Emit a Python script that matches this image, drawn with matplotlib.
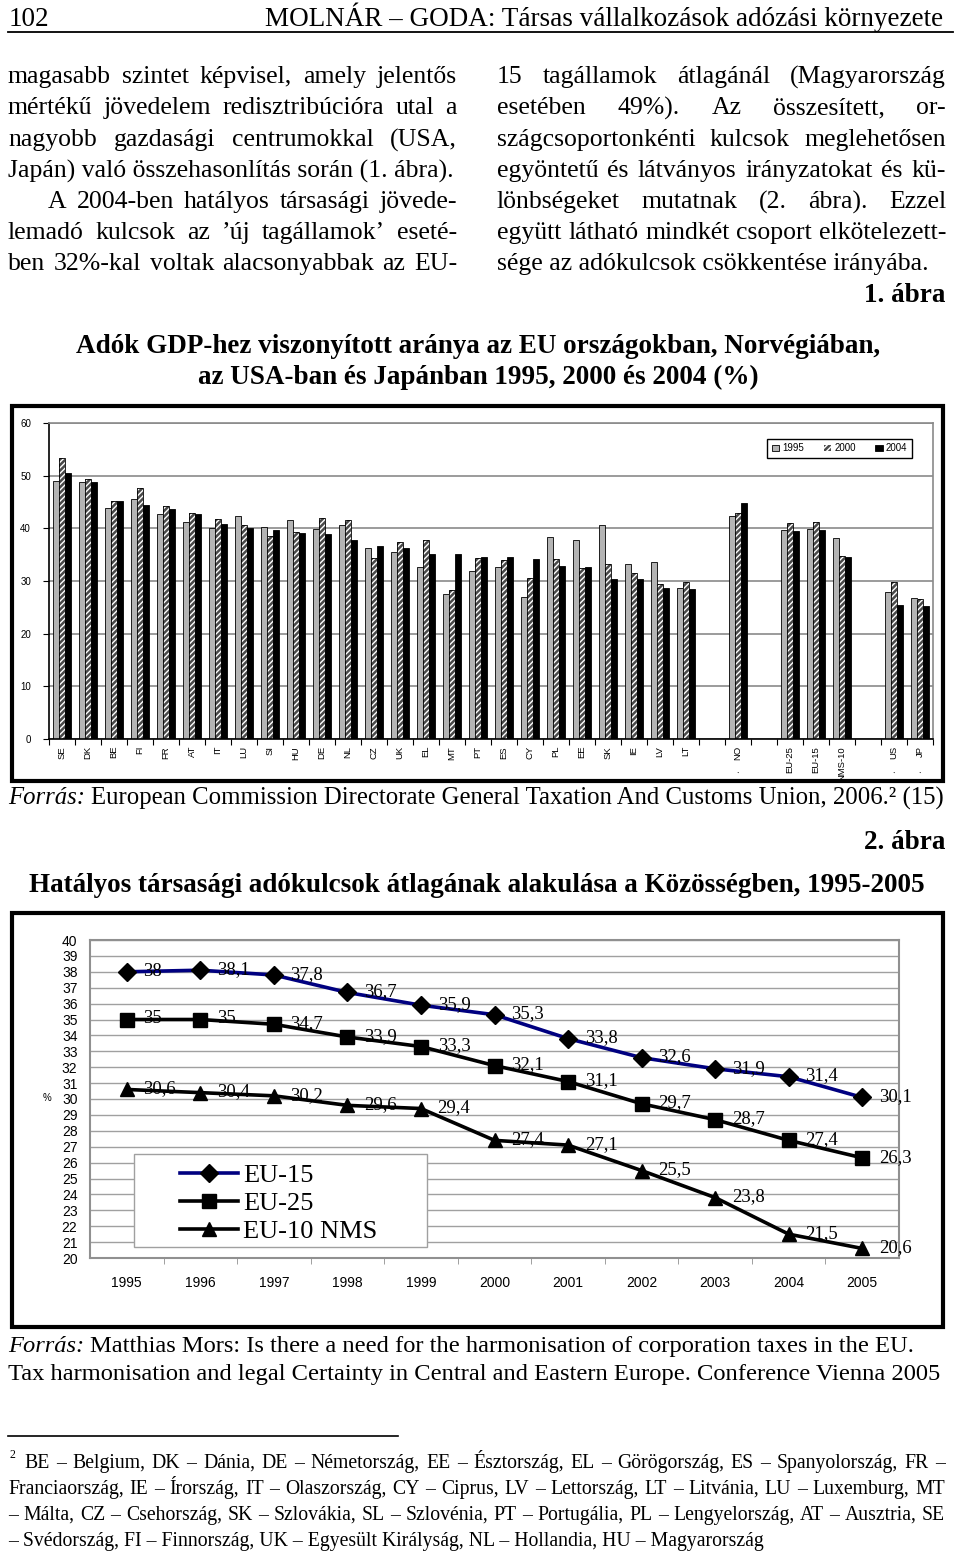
import matplotlib
matplotlib.use('Agg')
import matplotlib.pyplot as plt
import numpy as np
from matplotlib.patches import Rectangle
from matplotlib.lines import Line2D

W, H = 960, 1553
SERIF = 'Liberation Serif'
SANS = 'Liberation Sans'

# 1. ábra - adók a GDP %-ában ('' = üres hely a csoportok között)
countries = ['SE', 'DK', 'BE', 'FI', 'FR', 'AT', 'IT', 'LU', 'SI', 'HU', 'DE', 'NL',
             'CZ', 'UK', 'EL', 'MT', 'PT', 'ES', 'CY', 'PL', 'EE', 'SK', 'IE', 'LV',
             'LT', '', 'NO', '', 'EU-25', 'EU-15', 'NMS-10', '', 'US', 'JP']
tax_1995 = [49.0, 48.8, 43.9, 45.6, 42.7, 41.2, 40.1, 42.3, 40.3, 41.6, 39.9, 40.6,
            36.2, 35.5, 32.7, 27.5, 31.9, 32.7, 27.0, 38.4, 37.8, 40.6, 33.2, 33.7,
            28.6, None, 42.3, None, 39.7, 39.9, 38.1, None, 27.9, 26.7]
tax_2000 = [53.4, 49.3, 45.2, 47.7, 44.2, 42.9, 41.8, 40.6, 38.6, 39.3, 42.0, 41.6,
            34.4, 37.4, 37.8, 28.2, 34.4, 33.9, 30.5, 34.2, 32.5, 33.2, 31.5, 29.5,
            29.9, None, 43.0, None, 41.1, 41.2, 34.7, None, 29.9, 26.6]
tax_2004 = [50.6, 48.8, 45.2, 44.5, 43.6, 42.7, 40.8, 40.0, 39.7, 39.2, 38.9, 37.8,
            36.6, 36.2, 35.1, 35.1, 34.5, 34.5, 34.2, 32.8, 32.6, 30.4, 30.3, 28.6,
            28.5, None, 44.9, None, 39.4, 39.7, 34.6, None, 25.5, 25.3]
flagged = ['NO', 'US', 'JP']

# 2. ábra - társasági adókulcsok átlaga
years = [1995, 1996, 1997, 1998, 1999, 2000, 2001, 2002, 2003, 2004, 2005]
eu15 = [38, 38.1, 37.8, 36.7, 35.9, 35.3, 33.8, 32.6, 31.9, 31.4, 30.1]
eu25 = [35, 35, 34.7, 33.9, 33.3, 32.1, 31.1, 29.7, 28.7, 27.4, 26.3]
nms10 = [30.6, 30.4, 30.2, 29.6, 29.4, 27.4, 27.1, 25.5, 23.8, 21.5, 20.6]

left_col = ['magasabb szintet képvisel, amely jelentős',
            'mértékű jövedelem redisztribúcióra utal a',
            'nagyobb gazdasági centrumokkal (USA,',
            'Japán) való összehasonlítás során (1. ábra).',
            'A 2004-ben hatályos társasági jövede-',
            'lemadó kulcsok az ’új tagállamok’ eseté-',
            'ben 32%-kal voltak alacsonyabbak az EU-']
right_col = ['15 tagállamok átlagánál (Magyarország',
             'esetében 49%). Az összesített, or-',
             'szágcsoportonkénti kulcsok meglehetősen',
             'egyöntetű és látványos irányzatokat és kü-',
             'lönbségeket mutatnak (2. ábra). Ezzel',
             'együtt látható mindkét csoport elkötelezett-',
             'sége az adókulcsok csökkentése irányába.']
footnote = ['BE – Belgium, DK – Dánia, DE – Németország, EE – Észtország, EL – Görögország, ES – Spanyolország, FR –',
            'Franciaország, IE – Írország, IT – Olaszország, CY – Ciprus, LV – Lettország, LT – Litvánia, LU – Luxemburg, MT',
            '– Málta, CZ – Csehország, SK – Szlovákia, SL – Szlovénia, PT – Portugália, PL – Lengyelország, AT – Ausztria, SE',
            '– Svédország, FI – Finnország, UK – Egyesült Királyság, NL – Hollandia, HU – Magyarország']

fig = plt.figure(figsize=(W / 100, H / 100), dpi=100)
R = fig.canvas.get_renderer()


def fx(x):
    return x / W


def fy(y):
    return 1 - y / H


def text_w(s, size, **kw):
    kw.setdefault('family', SERIF)
    t = fig.text(0, 0, s, fontsize=size, **kw)
    w = t.get_window_extent(R).width
    t.remove()
    return w


def fit(s, width, **kw):
    return 20 * width / text_w(s, 20, **kw)


def put(s, x, y, size, ha='left', **kw):
    # y is the visual middle of the line; place on a common baseline
    kw.setdefault('family', SERIF)
    base = y + 0.29 * size * 100 / 72
    return fig.text(fx(x), fy(base), s, fontsize=size, ha=ha, va='baseline', **kw)


def justify(s, x0, x1, y, size, **kw):
    words = s.split()
    ws = [text_w(w, size, **kw) for w in words]
    gap = (x1 - x0 - sum(ws)) / (len(words) - 1)
    x = x0
    for w, wd in zip(words, ws):
        put(w, x, y, size, **kw)
        x += wd + gap


def italic_lead(lead, rest, x, y, size):
    put(lead, x, y, size, style='italic')
    sp = text_w('x x', size) - text_w('xx', size)
    put(rest, x + text_w(lead, size, style='italic') + sp, y, size)


# fejléc
hs = fit('MOLNÁR – GODA: Társas vállalkozások adózási környezete', 678)
put('102', 9, 18, hs)
put('MOLNÁR – GODA: Társas vállalkozások adózási környezete', 943, 18, hs, ha='right')
fig.add_artist(Line2D([fx(8), fx(953)], [fy(32), fy(32)], color='black', lw=1.3))

# szöveg két hasábban
bs = fit(left_col[3], 445)
rows = [76, 107, 139, 170, 201, 232, 263]
for i, line in enumerate(left_col):
    if i == 3:
        put(line, 8, rows[i], bs)
    else:
        justify(line, 48 if i == 4 else 8, 457, rows[i], bs)
for i, line in enumerate(right_col):
    if i == 6:
        put(line, 497, rows[i], bs)
    else:
        justify(line, 497, 946, rows[i], bs)

ts = fit('Adók GDP-hez viszonyított aránya az EU országokban, Norvégiában,', 805, weight='bold')
put('1. ábra', 945, 294, ts, ha='right', weight='bold')
put('Adók GDP-hez viszonyított aránya az EU országokban, Norvégiában,', 478, 345, ts,
    ha='center', weight='bold')
put('az USA-ban és Japánban 1995, 2000 és 2004 (%)', 478, 376, ts, ha='center', weight='bold')

# 1. ábra
fig.add_artist(Rectangle((fx(12), fy(781)), (943 - 12) / W, (781 - 406) / H,
                         transform=fig.transFigure, fill=False, lw=3, ec='black'))
ax1 = fig.add_axes([fx(49), fy(739), (933 - 49) / W, (739 - 423) / H])
x = np.arange(len(countries))
bw = 0.24
v95 = np.array(tax_1995, dtype=float)
v00 = np.array(tax_2000, dtype=float)
v04 = np.array(tax_2004, dtype=float)
ax1.bar(x - bw, v95, bw, color='#b4b4b4', edgecolor='black', lw=0.6, label='1995', zorder=2)
ax1.bar(x, v00, bw, color='#4a4a4a', edgecolor='white', hatch='//////', lw=0.01,
        label='2000', zorder=2)
ax1.bar(x, v00, bw, fill=False, edgecolor='black', lw=0.6, zorder=2.1)
ax1.bar(x + bw, v04, bw, color='black', edgecolor='black', lw=0.6, label='2004', zorder=2)
ax1.set_xlim(-0.5, len(countries) - 0.5)
ax1.set_ylim(0, 60)
ax1.set_yticks(range(0, 61, 10))
ax1.set_xticks(x, countries, rotation=90, fontsize=6.8, family=SANS)
ax1.set_xticks(np.arange(-0.5, len(countries)), minor=True)
ax1.tick_params(axis='x', which='major', length=0, pad=5)
ax1.tick_params(axis='x', which='minor', length=4, width=0.8)
ax1.tick_params(axis='y', length=4, width=0.8, pad=9, labelsize=7)
for lab in ax1.get_yticklabels():
    lab.set_family(SANS)
ax1.yaxis.grid(True, color='#8a8a8a', lw=1.2)
ax1.set_axisbelow(True)
for s in ['left', 'bottom']:
    ax1.spines[s].set_linewidth(1.2)
for s in ['top', 'right']:
    ax1.spines[s].set_color('#8a8a8a')
    ax1.spines[s].set_linewidth(1.2)
for c in flagged:
    ax1.text(countries.index(c), -0.11, '•', transform=ax1.get_xaxis_transform(),
             ha='center', va='center', fontsize=3)
leg1 = ax1.legend(loc='upper right', bbox_to_anchor=(0.976, 0.949), ncol=3,
                  prop={'family': SANS, 'size': 7}, fancybox=False, edgecolor='black',
                  framealpha=1, borderaxespad=0, handlelength=0.8, handleheight=0.6,
                  columnspacing=2.0, handletextpad=0.3, borderpad=0.45)
leg1.get_frame().set_linewidth(1.0)

fs1 = fit('Forrás: European Commission Directorate General Taxation And Customs Union, 2006.² (15)', 929)
italic_lead('Forrás:', 'European Commission Directorate General Taxation And Customs Union, 2006.² (15)',
            8, 797, fs1)

put('2. ábra', 945, 841, ts, ha='right', weight='bold')
t2 = 'Hatályos társasági adókulcsok átlagának alakulása a Közösségben, 1995-2005'
put(t2, 477, 884, fit(t2, 895, weight='bold'), ha='center', weight='bold')

# 2. ábra
fig.add_artist(Rectangle((fx(12), fy(1327)), (943 - 12) / W, (1327 - 913) / H,
                         transform=fig.transFigure, fill=False, lw=3, ec='black'))
ax2 = fig.add_axes([fx(90), fy(1258), (899 - 90) / W, (1258 - 940) / H])
xi = np.arange(len(years))
ax2.plot(xi, eu15, color='#000080', lw=2.6, marker='D', ms=9, mfc='black', mec='black',
         label='EU-15', zorder=4)
ax2.plot(xi, eu25, color='black', lw=2.6, marker='s', ms=9.5, label='EU-25', zorder=4)
ax2.plot(xi, nms10, color='black', lw=2.6, marker='^', ms=10.5, label='EU-10 NMS', zorder=4)
for series in (eu15, eu25, nms10):
    for i, v in enumerate(series):
        ax2.annotate(f'{v:g}'.replace('.', ','), (i, v), xytext=(12, 0.5),
                     textcoords='offset points', ha='left', va='center',
                     family=SERIF, fontsize=13.5, zorder=5)
ax2.set_xlim(-0.5, len(years) - 0.5)
ax2.set_ylim(20, 40)
ax2.set_yticks(range(20, 41))
ax2.set_xticks(xi, [str(y) for y in years])
ax2.set_xticks(xi[:-1] + 0.5, minor=True)
ax2.tick_params(axis='x', which='major', length=0, pad=13, labelsize=10)
ax2.tick_params(axis='x', which='minor', length=4, color='#909090')
ax2.tick_params(axis='y', length=0, pad=9, labelsize=10)
for lab in ax2.get_xticklabels() + ax2.get_yticklabels():
    lab.set_family(SANS)
ax2.yaxis.grid(True, color='#a0a0a0', lw=1.0)
ax2.set_axisbelow(True)
for s in ax2.spines.values():
    s.set_color('#909090')
    s.set_linewidth(1.5)
ax2.set_ylabel('%', rotation=0, fontsize=7, family=SANS, va='center', ha='center')
ax2.yaxis.set_label_coords((47 - 90) / 809, (1258 - 1098) / 318)
ax2.add_patch(Rectangle(((134 - 90) / 809, (1258 - 1247) / 318), 293 / 809, 93 / 318,
                        transform=ax2.transAxes, fc='white', ec='#a0a0a0', lw=1, zorder=3))
ax2.legend(loc='upper left', bbox_to_anchor=((180 - 90) / 809, (1258 - 1164) / 318),
           frameon=False, borderpad=0, borderaxespad=0, handlelength=2.2,
           handletextpad=0.2, labelspacing=0.17, prop={'family': SERIF, 'size': 19})

fs2 = fit('Tax harmonisation and legal Certainty in Central and Eastern Europe. Conference Vienna 2005', 932)
italic_lead('Forrás:', 'Matthias Mors: Is there a need for the harmonisation of corporation taxes in the EU.',
            8, 1345, fs2)
put('Tax harmonisation and legal Certainty in Central and Eastern Europe. Conference Vienna 2005',
    8, 1373, fs2)

# lábjegyzet
fig.add_artist(Line2D([fx(8), fx(398)], [fy(1436), fy(1436)], color='black', lw=1.2))
fn = fit(footnote[3], 757)
put('2', 9, 1455, fn * 0.6)
justify(footnote[0], 24, 945, 1462, fn)
justify(footnote[1], 8, 945, 1488, fn)
justify(footnote[2], 8, 945, 1514, fn)
put(footnote[3], 8, 1540, fn)

fig.savefig('out.png', dpi=100)
